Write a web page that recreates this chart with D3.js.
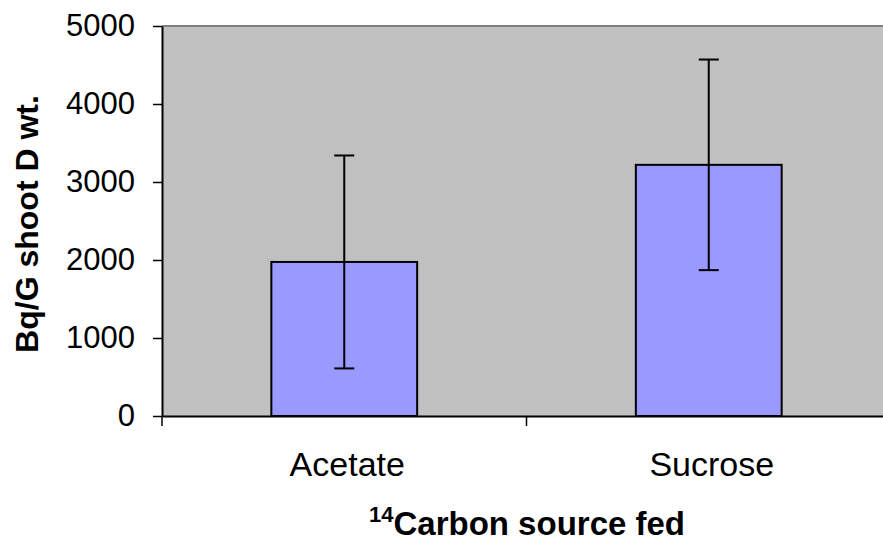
<!DOCTYPE html>
<html>
<head>
<meta charset="utf-8">
<script src="https://cdn.jsdelivr.net/npm/d3@7"></script>
<style>
html,body{margin:0;padding:0;background:#fff;}
svg{display:block;font-family:"Liberation Sans",Arial,sans-serif;}
</style>
</head>
<body>
<svg id="chart" width="883" height="543"></svg>
<script>
const categories = ["Acetate", "Sucrose"];
const values = [1975, 3220];
const errors = [1365, 1350];
const yTicks = [0, 1000, 2000, 3000, 4000, 5000];

const svg = d3.select("#chart");
const pLeft = 162, pRight = 891, pTop = 26, pBottom = 416;

const x = d3.scaleBand().domain(categories).range([pLeft, pRight]).paddingInner(0.6).paddingOuter(0.3);
const y = d3.scaleLinear().domain([0, 5000]).range([pBottom, pTop]);

// plot area
svg.append("rect").attr("x", pLeft).attr("y", pTop).attr("width", pRight - pLeft).attr("height", pBottom - pTop)
  .attr("fill", "#c0c0c0");
svg.append("line").attr("x1", pLeft).attr("x2", pRight).attr("y1", pTop).attr("y2", pTop)
  .attr("stroke", "#808080").attr("stroke-width", 2);

// bars
svg.selectAll(".bar").data(categories).enter().append("rect")
  .attr("x", d => x(d))
  .attr("y", (d, i) => y(values[i]))
  .attr("width", x.bandwidth())
  .attr("height", (d, i) => y(0) - y(values[i]))
  .attr("fill", "#9999ff").attr("stroke", "#000").attr("stroke-width", 2);

// error bars
const eg = svg.selectAll(".err").data(categories).enter().append("g");
eg.append("line")
  .attr("x1", d => x(d) + x.bandwidth() / 2).attr("x2", d => x(d) + x.bandwidth() / 2)
  .attr("y1", (d, i) => y(values[i] + errors[i])).attr("y2", (d, i) => y(values[i] - errors[i]))
  .attr("stroke", "#000").attr("stroke-width", 2);
[1, -1].forEach(s => {
  eg.append("line")
    .attr("x1", d => x(d) + x.bandwidth() / 2 - 10).attr("x2", d => x(d) + x.bandwidth() / 2 + 10)
    .attr("y1", (d, i) => y(values[i] + s * errors[i])).attr("y2", (d, i) => y(values[i] + s * errors[i]))
    .attr("stroke", "#000").attr("stroke-width", 2);
});

// y axis
const ya = svg.append("g").attr("transform", `translate(${pLeft},0)`)
  .call(d3.axisLeft(y).tickValues(yTicks).tickFormat(d3.format("d")).tickSize(9).tickPadding(18).tickSizeOuter(0));
ya.select(".domain").attr("stroke", "#000").attr("stroke-width", 2);
ya.selectAll(".tick line").attr("stroke", "#000").attr("stroke-width", 1.5);
ya.selectAll(".tick text").attr("font-size", 31).attr("fill", "#000").attr("font-family", "Liberation Sans, Arial, sans-serif");

// x axis
const xa = svg.append("g").attr("transform", `translate(0,${pBottom})`)
  .call(d3.axisBottom(x).tickSize(0).tickPadding(0).tickSizeOuter(0));
xa.select(".domain").attr("stroke", "#000").attr("stroke-width", 2);
xa.selectAll(".tick text").attr("font-size", 34).attr("fill", "#000").attr("dy", null).attr("y", 60).attr("dx", 3)
  .attr("font-family", "Liberation Sans, Arial, sans-serif");
// category boundary ticks
const step = x.step();
const bounds = [pLeft, pLeft + step, pLeft + 2 * step];
svg.selectAll(".btick").data(bounds).enter().append("line")
  .attr("x1", d => d).attr("x2", d => d).attr("y1", pBottom).attr("y2", pBottom + 10)
  .attr("stroke", "#000").attr("stroke-width", 1.5);

// y title
svg.append("text").attr("transform", "translate(38,224) rotate(-90)")
  .attr("text-anchor", "middle").attr("font-weight", "bold").attr("font-size", 32)
  .text("Bq/G shoot D wt.");

// x title
const xt = svg.append("text").attr("x", 527).attr("y", 535).attr("text-anchor", "middle")
  .attr("font-weight", "bold").attr("font-size", 33);
xt.append("tspan").attr("font-size", 22).attr("dy", -13).text("14");
xt.append("tspan").attr("dy", 13).text("Carbon source fed");
</script>
</body>
</html>
